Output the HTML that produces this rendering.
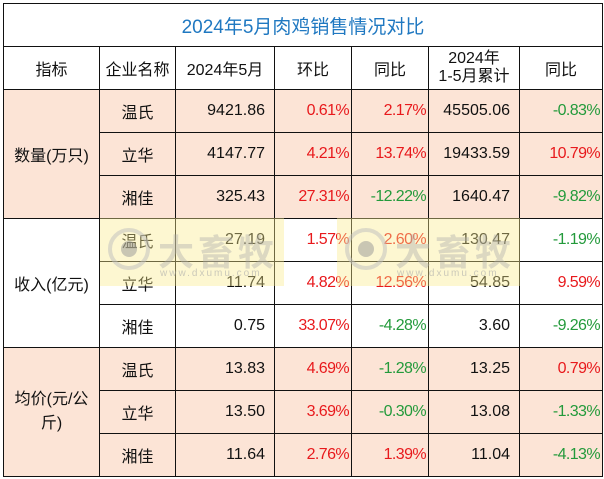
<!DOCTYPE html>
<html><head><meta charset="utf-8"><style>
body{margin:0;width:604px;height:479px;background:#fff;overflow:hidden;position:relative;font-family:"Liberation Sans","Noto Sans CJK SC",sans-serif;}
table{position:absolute;left:3px;top:3px;border-collapse:collapse;table-layout:fixed;}
td{border:1.5px solid #111;padding:0;font-size:16px;color:#111;height:42px;}
.t{color:#1f78c1;font-size:19px;text-align:center;}
.c{text-align:center}
.n{text-align:right;padding-right:9px}
.p{text-align:right;padding-right:2px;letter-spacing:-0.6px}
.r{color:#e8191c}.g{color:#239a3b}
.pk td{background:#fce4d6}
.wm{position:absolute;top:218px;height:68px;background:rgba(250,236,140,0.4);overflow:hidden}
.wm .ci{position:absolute;left:8px;top:10px;width:42px;height:42px;border-radius:50%;border:4px solid rgba(190,190,190,.5);box-sizing:border-box}
.wm .ci:after{content:"";position:absolute;left:9px;top:9px;width:16px;height:16px;border-radius:50%;background:rgba(150,150,150,.5)}
.wm .tx{position:absolute;left:58px;top:6px;font-size:36px;font-weight:bold;color:rgba(170,170,170,.4);letter-spacing:4px}
.wm .u{position:absolute;left:60px;top:50px;font-size:10px;color:rgba(170,170,170,.6);letter-spacing:2px}
</style></head><body>
<table>
<colgroup><col style="width:96px"><col style="width:76px"><col style="width:99px"><col style="width:77px"><col style="width:77px"><col style="width:91px"><col style="width:83px"></colgroup>
<tr><td colspan="7" class="t">2024年5月肉鸡销售情况对比</td></tr>
<tr><td class="c">指标</td><td class="c">企业名称</td><td class="c">2024年5月</td><td class="c">环比</td><td class="c">同比</td><td class="c" style="line-height:18px">2024年<br>1-5月累计</td><td class="c">同比</td></tr>
<tr class="pk"><td rowspan="3" class="c">数量(万只)</td><td class="c">温氏</td><td class="n">9421.86</td><td class="p r">0.61%</td><td class="p r">2.17%</td><td class="n">45505.06</td><td class="p g">-0.83%</td></tr>
<tr class="pk"><td class="c">立华</td><td class="n">4147.77</td><td class="p r">4.21%</td><td class="p r">13.74%</td><td class="n">19433.59</td><td class="p r">10.79%</td></tr>
<tr class="pk"><td class="c">湘佳</td><td class="n">325.43</td><td class="p r">27.31%</td><td class="p g">-12.22%</td><td class="n">1640.47</td><td class="p g">-9.82%</td></tr>
<tr><td rowspan="3" class="c">收入(亿元)</td><td class="c">温氏</td><td class="n">27.19</td><td class="p r">1.57%</td><td class="p r">2.60%</td><td class="n">130.47</td><td class="p g">-1.19%</td></tr>
<tr><td class="c">立华</td><td class="n">11.74</td><td class="p r">4.82%</td><td class="p r">12.56%</td><td class="n">54.85</td><td class="p r">9.59%</td></tr>
<tr><td class="c">湘佳</td><td class="n">0.75</td><td class="p r">33.07%</td><td class="p g">-4.28%</td><td class="n">3.60</td><td class="p g">-9.26%</td></tr>
<tr class="pk"><td rowspan="3" class="c" style="line-height:24px">均价(元/公<br>斤)</td><td class="c">温氏</td><td class="n">13.83</td><td class="p r">4.69%</td><td class="p g">-1.28%</td><td class="n">13.25</td><td class="p r">0.79%</td></tr>
<tr class="pk"><td class="c">立华</td><td class="n">13.50</td><td class="p r">3.69%</td><td class="p g">-0.30%</td><td class="n">13.08</td><td class="p g">-1.33%</td></tr>
<tr class="pk"><td class="c">湘佳</td><td class="n">11.64</td><td class="p r">2.76%</td><td class="p r">1.39%</td><td class="n">11.04</td><td class="p g">-4.13%</td></tr>
</table>
<div class="wm" style="left:100px;width:184px"><div class="ci"></div><div class="tx">大畜牧</div><div class="u">www.dxumu.com</div></div>
<div class="wm" style="left:337px;width:183px"><div class="ci"></div><div class="tx">大畜牧</div><div class="u">www.dxumu.com</div></div>
</body></html>
